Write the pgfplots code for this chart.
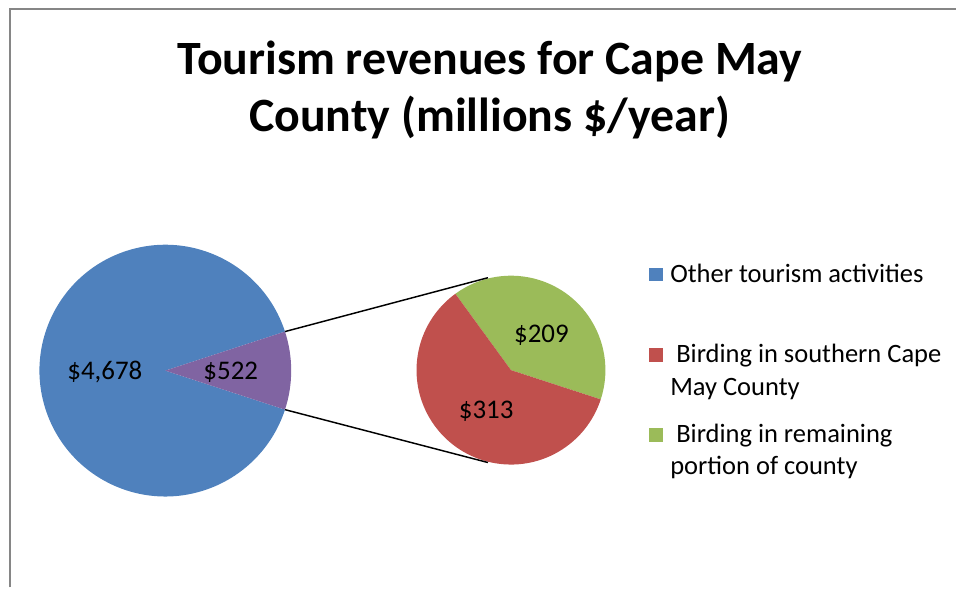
\documentclass[border=0pt]{standalone}
\usepackage{pgfplots}
\pgfplotsset{compat=1.18}
\usepackage{pgfplotstable}
\usepackage{fontspec}
\setmainfont{Carlito}
\definecolor{cblue}{HTML}{4F81BD}
\definecolor{cpurple}{HTML}{8064A2}
\definecolor{cred}{HTML}{C0504D}
\definecolor{cgreen}{HTML}{9BBB59}
\definecolor{cframe}{HTML}{868686}

\pgfplotstableread{
part value
other 4678
birding 522
}\mainpie
\pgfplotstableread{
part value
southern 313
remaining 209
}\subpie

\begin{document}
\begin{tikzpicture}
\pgfplotstablegetelem{0}{value}\of\mainpie \pgfmathsetmacro{\vOther}{\pgfplotsretval}
\pgfplotstablegetelem{1}{value}\of\mainpie \pgfmathsetmacro{\vBird}{\pgfplotsretval}
\pgfplotstablegetelem{0}{value}\of\subpie \pgfmathsetmacro{\vSouth}{\pgfplotsretval}
\pgfplotstablegetelem{1}{value}\of\subpie \pgfmathsetmacro{\vRem}{\pgfplotsretval}
\pgfmathsetmacro{\fracB}{\vBird/(\vOther+\vBird)}
\pgfmathsetmacro{\half}{180*\fracB}
\pgfmathsetmacro{\mainEnd}{360-\half}
\pgfmathsetmacro{\negHalf}{-\half}
\pgfmathsetmacro{\fracR}{\vRem/(\vSouth+\vRem)}
\pgfmathsetmacro{\gEnd}{-\half+360*\fracR}
\begin{axis}[width=717.75pt,height=441pt,scale only axis,
  xmin=0,xmax=957,ymin=0,ymax=588,y dir=reverse,hide axis,clip=false]
\path (axis cs:0,0) rectangle (axis cs:957,588);
% frame
\draw[cframe,line width=1.5pt] (axis cs:10,588) -- (axis cs:10,9) -- (axis cs:957,9);
% title
\node[anchor=base,inner sep=0pt,font=\fontsize{35.9pt}{40pt}\selectfont\bfseries] at (axis cs:490.5,75) {Tourism revenues for Cape May};
\node[anchor=base,inner sep=0pt,font=\fontsize{35.9pt}{40pt}\selectfont\bfseries] at (axis cs:490,131.7) {County (millions \$/year)};
% main pie
\fill[cblue] (axis cs:165.5,371) -- ++(\half:94.5pt) arc[start angle=\half, end angle=\mainEnd, radius=94.5pt] -- cycle;
\fill[cpurple] (axis cs:165.5,371) -- ++(\negHalf:94.5pt) arc[start angle=\negHalf, end angle=\half, radius=94.5pt] -- cycle;
% second pie
\fill[cgreen] (axis cs:511.5,370.5) -- ++(\negHalf:70.9pt) arc[start angle=\negHalf, end angle=\gEnd, radius=70.9pt] -- cycle;
\fill[cred] (axis cs:511.5,370.5) -- ++(\gEnd:70.9pt) arc[start angle=\gEnd, end angle=\mainEnd, radius=70.9pt] -- cycle;
% connector lines
\path (axis cs:165.5,371) ++(\half:94.5pt) coordinate (p1);
\path (axis cs:165.5,371) ++(\negHalf:94.5pt) coordinate (p2);
\path (axis cs:511.5,370.5) ++(104:71.5pt) coordinate (q1);
\path (axis cs:511.5,370.5) ++(-104:71.5pt) coordinate (q2);
\draw[black,line width=1.1pt] (p1) -- (q1);
\draw[black,line width=1.1pt] (p2) -- (q2);
% data labels
\node[anchor=base,inner sep=0pt,font=\fontsize{20.2pt}{22pt}\selectfont] at (axis cs:105,380) {\$4,678};
\node[anchor=base,inner sep=0pt,font=\fontsize{20.2pt}{22pt}\selectfont] at (axis cs:231,380) {\$522};
\node[anchor=base,inner sep=0pt,font=\fontsize{20.2pt}{22pt}\selectfont] at (axis cs:542,342.5) {\$209};
\node[anchor=base,inner sep=0pt,font=\fontsize{20.2pt}{22pt}\selectfont] at (axis cs:486.7,418.5) {\$313};
% legend
\fill[cblue] (axis cs:649.5,268.3) rectangle (axis cs:664,281.7);
\fill[cred] (axis cs:649.5,348.5) rectangle (axis cs:664,362.5);
\fill[cgreen] (axis cs:649.5,428) rectangle (axis cs:664,442.2);
\node[anchor=base west,inner sep=0pt,font=\fontsize{19.9pt}{22pt}\selectfont] at (axis cs:670.7,282.3) {Other tourism activities};
\node[anchor=base west,inner sep=0pt,font=\fontsize{19.9pt}{22pt}\selectfont] at (axis cs:676.7,362.7) {Birding in southern Cape};
\node[anchor=base west,inner sep=0pt,font=\fontsize{19.9pt}{22pt}\selectfont] at (axis cs:670.7,395.5) {May County};
\node[anchor=base west,inner sep=0pt,font=\fontsize{19.9pt}{22pt}\selectfont] at (axis cs:676.7,442.7) {Birding in remaining};
\node[anchor=base west,inner sep=0pt,font=\fontsize{19.9pt}{22pt}\selectfont] at (axis cs:670.7,474.5) {portion of county};
\end{axis}
\end{tikzpicture}
\end{document}
